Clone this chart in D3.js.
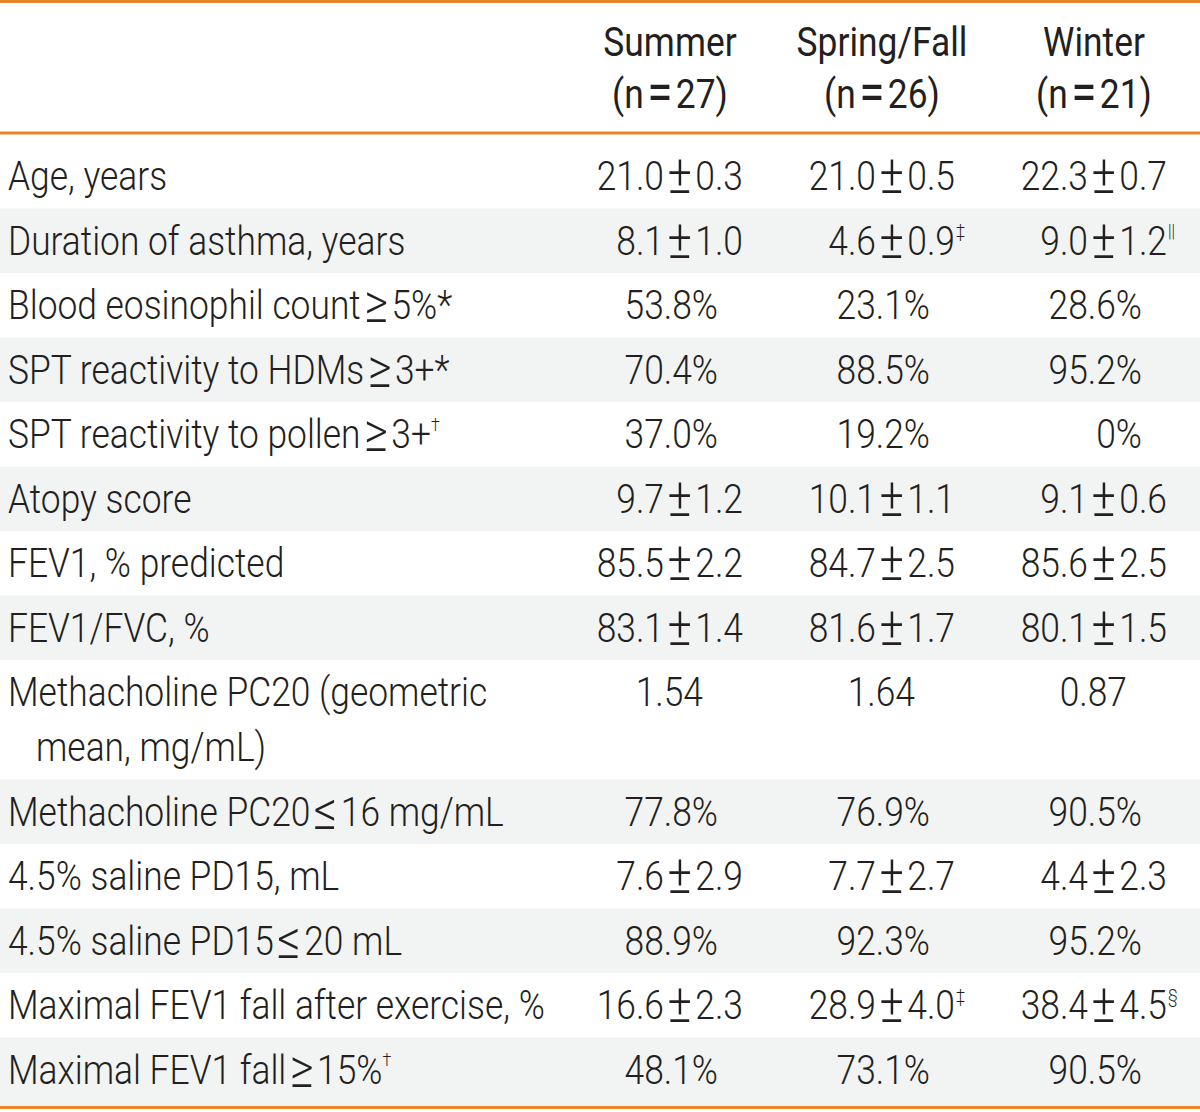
<!DOCTYPE html>
<html>
<head>
<meta charset="utf-8">
<script src="https://cdn.jsdelivr.net/npm/d3@7"></script>
<style>
  html, body { margin: 0; padding: 0; background: #ffffff; }
  svg { display: block; }
</style>
</head>
<body>
<svg id="chart" width="1200" height="1112"></svg>
<script>
// ---------------- DATA ----------------
const groups = ["Summer", "Spring/Fall", "Winter"];
const groupN = ["(n=27)", "(n=26)", "(n=21)"];

const rowLabels = [
  ["Age, years"],
  ["Duration of asthma, years"],
  ["Blood eosinophil count\u22655%*"],
  ["SPT reactivity to HDMs\u22653+*"],
  ["SPT reactivity to pollen\u22653+"],
  ["Atopy score"],
  ["FEV1, % predicted"],
  ["FEV1/FVC, %"],
  ["Methacholine PC20 (geometric", "mean, mg/mL)"],
  ["Methacholine PC20\u226416 mg/mL"],
  ["4.5% saline PD15, mL"],
  ["4.5% saline PD15\u226420 mL"],
  ["Maximal FEV1 fall after exercise, %"],
  ["Maximal FEV1 fall\u226515%"]
];
const rowLabelMarks = ["", "", "", "", "\u2020", "", "", "", "", "", "", "", "", "\u2020"];

const summerValues = ["21.0\u00B10.3", "8.1\u00B11.0", "53.8%", "70.4%", "37.0%", "9.7\u00B11.2", "85.5\u00B12.2", "83.1\u00B11.4", "1.54", "77.8%", "7.6\u00B12.9", "88.9%", "16.6\u00B12.3", "48.1%"];
const springFallValues = ["21.0\u00B10.5", "4.6\u00B10.9", "23.1%", "88.5%", "19.2%", "10.1\u00B11.1", "84.7\u00B12.5", "81.6\u00B11.7", "1.64", "76.9%", "7.7\u00B12.7", "92.3%", "28.9\u00B14.0", "73.1%"];
const winterValues = ["22.3\u00B10.7", "9.0\u00B11.2", "28.6%", "95.2%", "0%", "9.1\u00B10.6", "85.6\u00B12.5", "80.1\u00B11.5", "0.87", "90.5%", "4.4\u00B12.3", "95.2%", "38.4\u00B14.5", "90.5%"];

const summerMarks = ["", "", "", "", "", "", "", "", "", "", "", "", "", ""];
const springFallMarks = ["", "\u2021", "", "", "", "", "", "", "", "", "", "", "\u2021", ""];
const winterMarks = ["", "||", "", "", "", "", "", "", "", "", "", "", "\u00A7", ""];

// ---------------- LAYOUT ----------------
const W = 1200, H = 1112;
const FONT = "'Roboto', 'Liberation Sans', sans-serif";
const FS = 41;
const WEIGHT = 300;
const textColor = "#231F20";
const bandColor = "#F2F3F3";
const lineColor = "#E8852B";
const SIGN_PAD = 4;      // extra space around ± ≥ ≤ = (unscaled px)
const SIGN_SCALE = 1.3;  // signs drawn larger, like the reference
const SIGN_DY = 3;

const svg = d3.select("#chart");

function fillText(t, str, fs) {
  const parts = str.split(/([\u00B1\u2265\u2264=])/).filter(p => p !== "");
  let after = false;
  parts.forEach(p => {
    const isSign = /^[\u00B1\u2265\u2264=]$/.test(p);
    const ts = t.append("tspan").text(p);
    if (isSign) {
      ts.attr("dx", SIGN_PAD).attr("dy", SIGN_DY).attr("font-size", fs * SIGN_SCALE);
    } else if (after) {
      ts.attr("dx", SIGN_PAD).attr("dy", -SIGN_DY);
    }
    after = isSign;
  });
}

// measure font to fit the reference width for horizontal compression
const probe = svg.append("text").attr("font-family", FONT).attr("font-size", FS)
  .attr("font-weight", WEIGHT).text("Maximal FEV1 fall after exercise, %");
const measured = probe.node().getComputedTextLength();
probe.remove();
const sx = 537 / measured;

// row positions via a linear scale in "line units"
const extraLine = 55 / 64.5;
const units = rowLabels.map(l => 1 + (l.length - 1) * extraLine);
const starts = [];
let acc = 0;
units.forEach(u => { starts.push(acc); acc += u; });
const y = d3.scaleLinear().domain([0, 1]).range([144, 144 + 64.5]);

// column scale
const x = d3.scalePoint().domain(groups).range([670, 1094]);

const rows = rowLabels.map((lab, i) => ({
  i, lab, mark: rowLabelMarks[i],
  top: y(starts[i]),
  bottom: i === rowLabels.length - 1 ? 1106 : y(starts[i] + units[i]),
  vals: [summerValues[i], springFallValues[i], winterValues[i]],
  marks: [summerMarks[i], springFallMarks[i], winterMarks[i]]
}));

// bands (alternating; odd rows gray)
svg.append("g").selectAll("rect")
  .data(rows.filter(r => r.i % 2 === 1))
  .join("rect")
  .attr("x", 0).attr("width", W)
  .attr("y", r => r.top)
  .attr("height", r => r.bottom - r.top)
  .attr("fill", bandColor);

// rules
const rules = [1.5, 133, 1107.5];
svg.append("g").selectAll("line").data(rules).join("line")
  .attr("x1", 0).attr("x2", W)
  .attr("y1", d => d).attr("y2", d => d)
  .attr("stroke", lineColor).attr("stroke-width", 3);

function addText(g, str, mark, px, py, anchor, weight) {
  const t = g.append("text")
    .attr("transform", `translate(${px},${py}) scale(${sx},1)`)
    .attr("text-anchor", anchor)
    .attr("font-family", FONT)
    .attr("font-size", FS)
    .attr("font-weight", weight || WEIGHT)
    .attr("fill", textColor);
  fillText(t, str, FS);
  if (mark) {
    t.append("tspan").attr("font-size", FS * 0.45).attr("dy", -FS * 0.42).text(mark);
  }
  return t;
}

// header
const hg = svg.append("g");
groups.forEach((gname, k) => {
  addText(hg, gname, "", x(gname), 56, "middle", 400);
  addText(hg, groupN[k], "", x(gname), 108, "middle", 400);
});

// row labels
const lg = svg.append("g");
rows.forEach(r => {
  r.lab.forEach((line, li) => {
    const isLast = li === r.lab.length - 1;
    addText(lg, line, isLast ? r.mark : "", li === 0 ? 8 : 36, r.top + 46 + li * 55, "start");
  });
});

// values: alignment depends on kind of value
function rightOffset(v) {
  if (v.includes("\u00B1")) return 73;
  if (v.endsWith("%")) return 48;
  return 33;
}
const vg = svg.append("g");
rows.forEach(r => {
  groups.forEach((gname, k) => {
    const v = r.vals[k];
    const ax = x(gname) + rightOffset(v);
    addText(vg, v, "", ax, r.top + 46, "end");
    if (r.marks[k]) {
      vg.append("text")
        .attr("transform", `translate(${ax + 1},${r.top + 46 - FS * 0.42}) scale(${sx},1)`)
        .attr("font-family", FONT).attr("font-size", FS * 0.45)
        .attr("font-weight", WEIGHT)
        .attr("fill", textColor).text(r.marks[k]);
    }
  });
});
</script>
</body>
</html>
